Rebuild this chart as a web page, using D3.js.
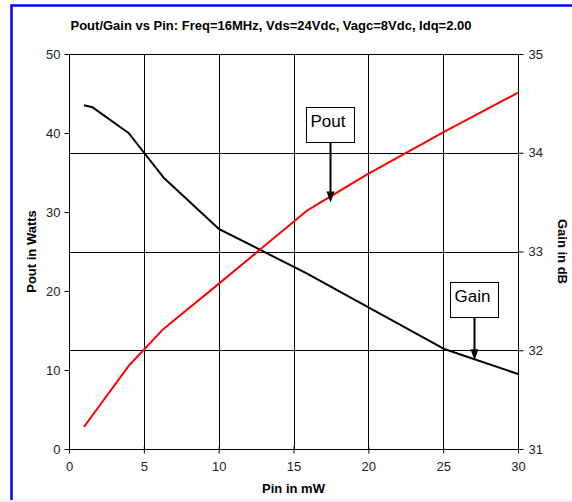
<!DOCTYPE html>
<html>
<head>
<meta charset="utf-8">
<script src="https://cdn.jsdelivr.net/npm/d3@7"></script>
<style>
  body { margin: 0; background: #ededf3; }
  svg { display: block; font-family: "Liberation Sans", Arial, sans-serif; }
</style>
</head>
<body>
<div id="chart"></div>
<script>
// data
var pin = [1, 1.58, 3.98, 6.31, 10, 15.85, 19.95, 25.12, 30];
var pout = [2.8, 4.3, 10.5, 15.2, 20.9, 30.1, 34.8, 40.2, 45.1];
var gain = [34.48, 34.46, 34.2, 33.75, 33.23, 32.78, 32.44, 32.01, 31.76];

var xTicks = [0, 5, 10, 15, 20, 25, 30];
var leftTicks = [0, 10, 20, 30, 40, 50];
var rightTicks = [31, 32, 33, 34, 35];

var titleText = 'Pout/Gain vs Pin: Freq=16MHz, Vds=24Vdc, Vagc=8Vdc, Idq=2.00';

// callouts: label, which axis, tip point (Pin, value) and box top value
var callouts = [
    {label: 'Pout', axis: 'left', tipX: 17.44, tipY: 31.2, boxTop: 43.24},
    {label: 'Gain', axis: 'right', tipX: 27.06, tipY: 31.9, boxTop: 32.69}
];

var width = 572;
var height = 500;
var margin = {top: 54, right: 54, bottom: 51, left: 69};

var x = d3.scaleLinear().domain([0, 30]).range([margin.left, width - margin.right]);
var yL = d3.scaleLinear().domain([0, 50]).range([height - margin.bottom, margin.top]);
var yR = d3.scaleLinear().domain([31, 35]).range([height - margin.bottom, margin.top]);

var svg = d3.select('#chart')
  .append('svg')
    .attr('width', width)
    .attr('height', height);

svg.append('rect')
    .attr('width', width)
    .attr('height', height)
    .attr('fill', '#ffffff');

// blue frame (only top and left visible)
svg.append('path')
    .attr('d', 'M11.5,' + (height + 2) + 'V5.5H' + (width + 2))
    .attr('fill', 'none')
    .attr('stroke', '#0000ff')
    .attr('stroke-width', 2.5);

// title
svg.append('text')
    .attr('x', 271)
    .attr('y', 30)
    .attr('text-anchor', 'middle')
    .attr('font-size', '13px')
    .attr('font-weight', 'bold')
    .text(titleText);

var x0 = margin.left, x1 = width - margin.right;
var y0 = height - margin.bottom, y1 = margin.top;

// vertical grid
svg.append('g')
    .selectAll('line')
    .data(xTicks.slice(1, -1))
  .enter()
    .append('line')
    .attr('x1', function(d) { return Math.round(x(d)) + 0.5; })
    .attr('x2', function(d) { return Math.round(x(d)) + 0.5; })
    .attr('y1', y0)
    .attr('y2', y1)
    .attr('stroke', '#000')
    .attr('stroke-width', 1);

// horizontal grid from the gain axis
svg.append('g')
    .selectAll('line')
    .data(rightTicks.slice(1, -1))
  .enter()
    .append('line')
    .attr('y1', function(d) { return Math.round(yR(d)) + 0.5; })
    .attr('y2', function(d) { return Math.round(yR(d)) + 0.5; })
    .attr('x1', x0)
    .attr('x2', x1)
    .attr('stroke', '#000')
    .attr('stroke-width', 1);

// plot frame
svg.append('rect')
    .attr('x', x0 + 0.5)
    .attr('y', y1 + 0.5)
    .attr('width', x1 - x0)
    .attr('height', y0 - y1)
    .attr('fill', 'none')
    .attr('stroke', '#000')
    .attr('stroke-width', 1);

// axes
function styleAxis(g) {
    g.select('.domain').remove();
    g.selectAll('.tick line').attr('stroke', '#000');
    g.selectAll('.tick text')
        .attr('font-size', '13px')
        .attr('fill', '#222')
        .attr('font-family', '"Liberation Sans", Arial, sans-serif');
}

svg.append('g')
    .attr('transform', 'translate(0,' + (y0 + 0.5) + ')')
    .call(d3.axisBottom(x).tickValues(xTicks).tickSize(4).tickPadding(8))
    .call(styleAxis)
    .call(function(g) { g.selectAll('.tick line').attr('y1', -3); });

svg.append('g')
    .attr('transform', 'translate(' + (x0 + 0.5) + ',0)')
    .call(d3.axisLeft(yL).tickValues(leftTicks).tickSize(5).tickPadding(4))
    .call(styleAxis);

svg.append('g')
    .attr('transform', 'translate(' + (x1 + 0.5) + ',0)')
    .call(d3.axisRight(yR).tickValues(rightTicks).tickFormat(d3.format('d')).tickSize(5).tickPadding(5))
    .call(styleAxis);

// axis titles
svg.append('text')
    .attr('x', (x0 + x1) / 2)
    .attr('y', 493)
    .attr('text-anchor', 'middle')
    .attr('font-size', '13px')
    .attr('font-weight', 'bold')
    .text('Pin in mW');

svg.append('text')
    .attr('transform', 'translate(36,' + ((y0 + y1) / 2) + ') rotate(-90)')
    .attr('text-anchor', 'middle')
    .attr('font-size', '13px')
    .attr('font-weight', 'bold')
    .text('Pout in Watts');

svg.append('text')
    .attr('transform', 'translate(558,' + ((y0 + y1) / 2) + ') rotate(90)')
    .attr('text-anchor', 'middle')
    .attr('font-size', '13px')
    .attr('font-weight', 'bold')
    .text('Gain in dB');

// series
var poutLine = d3.line()
    .x(function(d, i) { return x(pin[i]); })
    .y(function(d) { return yL(d); });
var gainLine = d3.line()
    .x(function(d, i) { return x(pin[i]); })
    .y(function(d) { return yR(d); });

svg.append('path')
    .datum(gain)
    .attr('d', gainLine)
    .attr('fill', 'none')
    .attr('stroke', '#000')
    .attr('stroke-width', 2)
    .attr('stroke-linejoin', 'round');

svg.append('path')
    .datum(pout)
    .attr('d', poutLine)
    .attr('fill', 'none')
    .attr('stroke', '#ff0000')
    .attr('stroke-width', 2)
    .attr('stroke-linejoin', 'round');

// callouts
var boxW = 48, boxH = 35;
callouts.forEach(function(c) {
    var ys = c.axis == 'left' ? yL : yR;
    var cx = Math.round(x(c.tipX)) + 0.5;
    var top = Math.round(ys(c.boxTop)) + 0.5;
    var tipY = ys(c.tipY);
    var g = svg.append('g');
    g.append('rect')
        .attr('x', cx - boxW / 2)
        .attr('y', top)
        .attr('width', boxW)
        .attr('height', boxH)
        .attr('fill', '#fff')
        .attr('stroke', '#000')
        .attr('stroke-width', 1);
    g.append('text')
        .attr('x', cx - boxW / 2 + 4)
        .attr('y', top + 19)
        .attr('font-size', '17px')
        .attr('fill', '#000')
        .text(c.label);
    g.append('line')
        .attr('x1', cx)
        .attr('x2', cx)
        .attr('y1', top + boxH)
        .attr('y2', tipY - 8)
        .attr('stroke', '#000')
        .attr('stroke-width', 2);
    g.append('path')
        .attr('d', 'M' + (cx - 4) + ',' + (tipY - 11) + 'L' + (cx + 4) + ',' + (tipY - 11) + 'L' + cx + ',' + tipY + 'Z')
        .attr('fill', '#000');
});
</script>
</body>
</html>
